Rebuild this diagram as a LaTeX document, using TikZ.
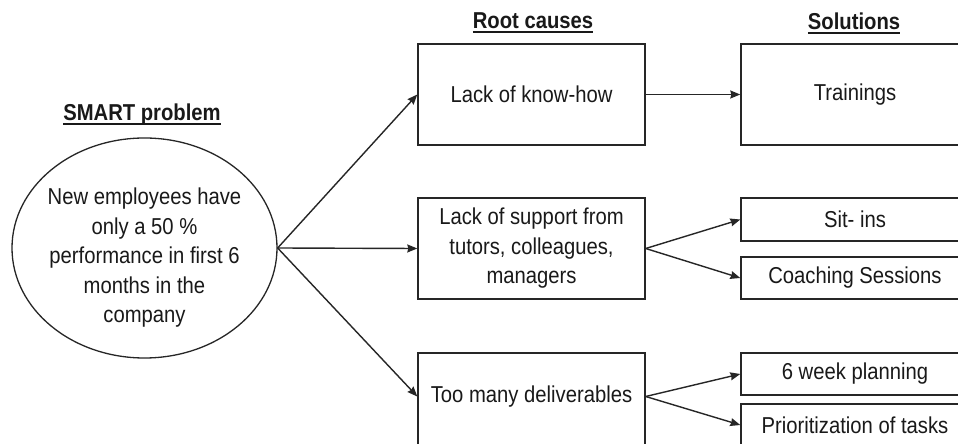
\documentclass[tikz,border=0pt]{standalone}
\usepackage{fontspec}
\setmainfont{Liberation Sans}[FakeStretch=0.88]
\usetikzlibrary{shapes.geometric,arrows.meta}
\newcommand\myul[1]{\setbox0\hbox{#1}\rlap{\rule[-4.5pt]{\wd0}{2pt}}\box0}
\begin{document}
\begin{tikzpicture}[x=1pt,y=1pt,
  every node/.style={font=\fontsize{23}{29.5}\selectfont, text=black!90, align=center, inner sep=0pt},
  box/.style={draw=black!85, line width=1.4pt, rectangle, minimum width=227, inner sep=0pt},
  sbox/.style={box, minimum width=228},
  oval/.style={draw=black!85, line width=1.3pt, ellipse, minimum width=265, minimum height=220},
  head/.style={font=\fontsize{23}{29.5}\selectfont\bfseries},
  conn/.style={draw=black!85, line width=1.4pt, -{Stealth[length=10pt,width=8pt,inset=1pt]}}
]
\useasboundingbox (0,0) rectangle (958,444);
\clip (0,0) rectangle (958,444);
\fill[white] (0,0) rectangle (958,444);

% headings
\node[head] (hsmart) at (142,329) {\myul{SMART problem}};
\node[head] (hroot) at (533,421) {\myul{Root causes}};
\node[head] (hsol) at (854,421) {\myul{Solutions}};

% problem
\node[oval] (prob) at (144.5,196) {};
\node (probt) at (144.5,186) {New employees have\\only a 50 \%\\performance in first 6\\months in the\\company};

% root causes
\node[box, minimum height=101] (rc1) at (531.5,349.5) {Lack of know-how};
\node[box, minimum height=101] (rc2) at (531.5,195.5) {Lack of support from\\tutors, colleagues,\\managers};
\node[box, minimum height=101] (rc3) at (531.5,40.5) {};
\node (rc3t) at (531.5,47.5) {Too many deliverables};

% solutions
\node[sbox, minimum height=101] (s1) at (855,349.5) {Trainings};
\node[sbox, minimum height=43] (s2) at (855,224.5) {Sit- ins};
\node[sbox, minimum height=42] (s3) at (855,166) {Coaching Sessions};
\node[sbox, minimum height=42] (s4) at (855,70) {6 week planning};
\node[sbox, minimum height=42] (s5) at (855,19) {Prioritization of tasks};

% connectors
\draw[conn] (prob.east) -- (rc1.west);
\draw[conn] (prob.east) -- (rc2.west);
\draw[conn] (prob.east) -- (rc3.west |- rc3t);
\draw[conn] (rc1.east) -- (s1.west);
\draw[conn] (rc2.east) -- (s2.west);
\draw[conn] (rc2.east) -- (s3.west);
\draw[conn] (rc3.east |- rc3t) -- (s4.west);
\draw[conn] (rc3.east |- rc3t) -- (s5.west);
\end{tikzpicture}
\end{document}
